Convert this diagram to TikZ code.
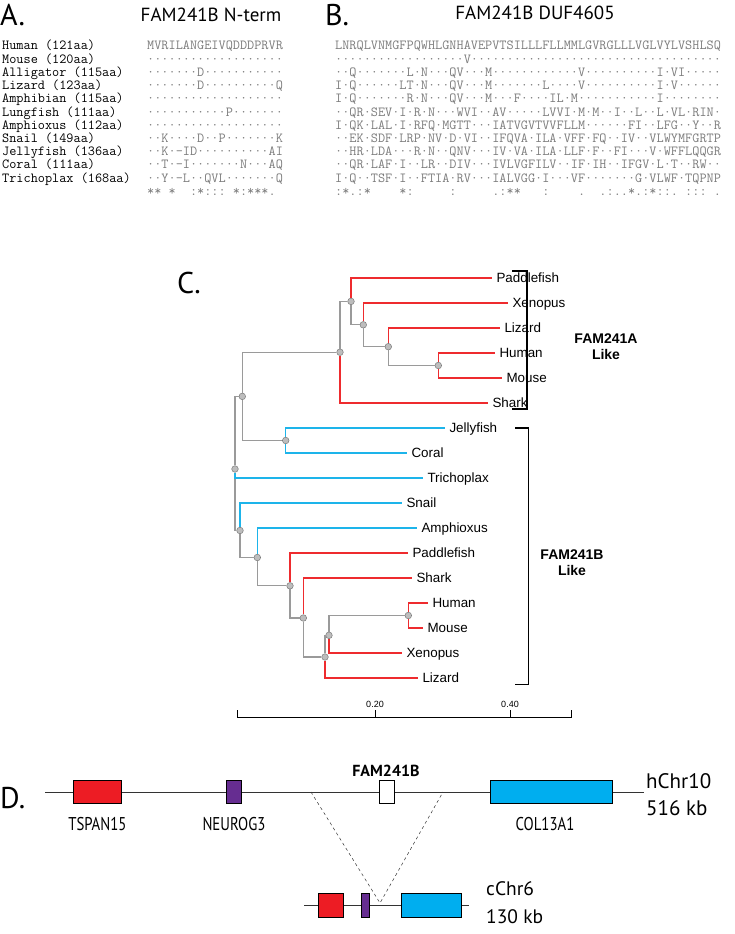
\documentclass[tikz,border=0pt]{standalone}
\usepackage{fontspec}
\newfontfamily\titlefont{PT Sans}
\newfontfamily\leaffont{Liberation Sans}
\newfontfamily\genefont[FakeStretch=0.8]{PT Sans}

\definecolor{seqgray}{HTML}{7C7C7C}
\definecolor{trred}{HTML}{EE2B2E}
\definecolor{trblue}{HTML}{1DB4EA}
\definecolor{trgray}{HTML}{9A9A9A}
\definecolor{nodefill}{HTML}{BDBDBD}
\definecolor{nodeedge}{HTML}{7A7A7A}
\definecolor{genered}{HTML}{ED1C24}
\definecolor{genepurple}{HTML}{662D91}
\definecolor{geneblue}{HTML}{00AEEF}
\definecolor{chrgray}{HTML}{333333}

\tikzset{
  panel/.style={font=\titlefont\fontsize{30}{30}\selectfont, anchor=base west, inner sep=0pt},
  heading/.style={font=\titlefont\fontsize{19}{19}\selectfont, anchor=base, inner sep=0pt},
  spname/.style={font=\ttfamily\fontsize{13.87}{14}\selectfont, anchor=base west, inner sep=0pt},
  residues/.style={spname, text=seqgray},
  leaf/.style={font=\leaffont\fontsize{13.4}{14}\selectfont, anchor=west, inner xsep=4.5pt,
    inner ysep=0pt, outer sep=0pt, text height=9.6pt, text depth=0pt},
  split/.style={circle, draw=nodeedge, fill=nodefill, line width=0.5pt, inner sep=0pt,
    minimum size=6.6pt},
  redbr/.style={draw=trred, line width=1.3pt},
  bluebr/.style={draw=trblue, line width=1.3pt},
  graybr/.style={draw=trgray, line width=1.3pt},
  bracket/.style={draw=black, line width=1.5pt},
  clade/.style={font=\leaffont\bfseries\fontsize{14}{16}\selectfont, align=center, inner sep=0pt},
  scalelbl/.style={font=\leaffont\fontsize{9}{9}\selectfont, anchor=base, inner sep=0pt},
  genebox/.style={draw=black, line width=0.6pt, minimum height=23pt, inner sep=0pt},
  genelbl/.style={font=\genefont\fontsize{18.5}{19}\selectfont, anchor=base, inner sep=0pt},
  chrlbl/.style={font=\titlefont\fontsize{21}{21}\selectfont, anchor=base west, inner sep=0pt},
  chrline/.style={draw=chrgray, line width=1pt}
}

\begin{document}
\begin{tikzpicture}[x=1pt,y=-1pt]
\useasboundingbox (0,0) rectangle (734,934);

	% Panel titles.
	\node[panel] (title_a) at (0,26) {A.};
	\node[panel] (title_b) at (325,26) {B.};
	\node[heading] (head_nterm) at (211,22) {FAM241B N-term};
	\node[heading] (head_duf) at (535,20) {FAM241B DUF4605};

	% Species names.
	\node[spname] (sp_human) at (2,50) {Human (121aa)};
	\node[spname] (sp_mouse) at (2,63.2) {Mouse (120aa)};
	\node[spname] (sp_alligator) at (2,76.4) {Alligator (115aa)};
	\node[spname] (sp_lizard) at (2,89.6) {Lizard (123aa)};
	\node[spname] (sp_amphibian) at (2,102.8) {Amphibian (115aa)};
	\node[spname] (sp_lungfish) at (2,116) {Lungfish (111aa)};
	\node[spname] (sp_amphioxus) at (2,129.2) {Amphioxus (112aa)};
	\node[spname] (sp_snail) at (2,142.4) {Snail (149aa)};
	\node[spname] (sp_jellyfish) at (2,155.6) {Jellyfish (136aa)};
	\node[spname] (sp_coral) at (2,168.8) {Coral (111aa)};
	\node[spname] (sp_tricho) at (2,182) {Trichoplax (168aa)};

	% N-term alignment.
	\node[residues] (nt_human) at (147,50) {MVRILANGEIVQDDDPRVR};
	\node[residues] (nt_mouse) at (147,63.2) {···················};
	\node[residues] (nt_alligator) at (147,76.4) {·······D···········};
	\node[residues] (nt_lizard) at (147,89.6) {·······D··········Q};
	\node[residues] (nt_amphibian) at (147,102.8) {···················};
	\node[residues] (nt_lungfish) at (147,116) {···········P·······};
	\node[residues] (nt_amphioxus) at (147,129.2) {···················};
	\node[residues] (nt_snail) at (147,142.4) {··K····D··P·······K};
	\node[residues] (nt_jellyfish) at (147,155.6) {··K·-ID··········AI};
	\node[residues] (nt_coral) at (147,168.8) {··T·-I·······N···AQ};
	\node[residues] (nt_tricho) at (147,182) {··Y·-L··QVL·······Q};
	\node[residues] (nt_cons) at (147,195.2) {**~*~~:*:::~*:***.};

	% DUF4605 alignment.
	\node[residues] (duf_human) at (335,50) {LNRQLVNMGFPQWHLGNHAVEPVTSILLLFLLMMLGVRGLLLVGLVYLVSHLSQ};
	\node[residues] (duf_mouse) at (335,63.2) {··················V···································};
	\node[residues] (duf_alligator) at (335,76.4) {··Q·······L·N···QV···M············V··········I·VI·····};
	\node[residues] (duf_lizard) at (335,89.6) {I·Q······LT·N···QV···M·······L····V··········I·V······};
	\node[residues] (duf_amphibian) at (335,102.8) {I·Q·······R·N···QV···M···F····IL·M···········I········};
	\node[residues] (duf_lungfish) at (335,116) {··QR·SEV·I·R·N···WVI··AV·····LVVI·M·M··I··L··L·VL·RIN·};
	\node[residues] (duf_amphioxus) at (335,129.2) {I·QK·LAL·I·RFQ·MGTT···IATVGVTVVFLLM······FI··LFG··Y··R};
	\node[residues] (duf_snail) at (335,142.4) {··EK·SDF·LRP·NV·D·VI··IFQVA·ILA·VFF·FQ··IV··VLWYMFGRTP};
	\node[residues] (duf_jellyfish) at (335,155.6) {··HR·LDA···R·N··QNV···IV·VA·ILA·LLF·F··FI···V·WFFLQQGR};
	\node[residues] (duf_coral) at (335,168.8) {··QR·LAF·I··LR··DIV···IVLVGFILV··IF·IH··IFGV·L·T··RW··};
	\node[residues] (duf_tricho) at (335,182) {I·Q··TSF·I··FTIA·RV···IALVGG·I···VF·······G·VLWF·TQPNP};
	\node[residues] (duf_cons) at (335,195.2) {:*.:*~~~~*:~~~~~:~~~~~.:**~~~:~~~~.~~.:..*.:*::.~:::~.};

	% Tree title.
	\node[panel] (title_c) at (177,293) {C.};

	% Leaves.
	\node[leaf] (lf_paddle_a) at (492,278) {Paddlefish};
	\node[leaf] (lf_xenopus_a) at (508,303) {Xenopus};
	\node[leaf] (lf_lizard_a) at (500,328) {Lizard};
	\node[leaf] (lf_human_a) at (495,353) {Human};
	\node[leaf] (lf_mouse_a) at (502,378) {Mouse};
	\node[leaf] (lf_shark_a) at (488,403) {Shark};
	\node[leaf] (lf_jelly) at (445,428) {Jellyfish};
	\node[leaf] (lf_coral) at (407,453) {Coral};
	\node[leaf] (lf_tricho) at (423,478) {Trichoplax};
	\node[leaf] (lf_snail) at (402,503) {Snail};
	\node[leaf] (lf_amphioxus) at (417,528) {Amphioxus};
	\node[leaf] (lf_paddle_b) at (408,553) {Paddlefish};
	\node[leaf] (lf_shark_b) at (412,578) {Shark};
	\node[leaf] (lf_human_b) at (428,603) {Human};
	\node[leaf] (lf_mouse_b) at (423,628) {Mouse};
	\node[leaf] (lf_xenopus_b) at (402,653) {Xenopus};
	\node[leaf] (lf_lizard_b) at (418,678) {Lizard};

	% Splits.
	\node[split] (n_hm_a) at (438.3,365.5) {};
	\node[split] (n_lhm_a) at (388.3,346.7) {};
	\node[split] (n_xlhm_a) at (363.3,324.8) {};
	\node[split] (n_pxlhm_a) at (351,301.4) {};
	\node[split] (n_fam_a) at (340,352.2) {};
	\node[split] (n_cnid) at (285.7,440.5) {};
	\node[split] (n_top) at (242.3,396.4) {};
	\node[split] (n_root) at (235,469) {};
	\node[split] (n_snail) at (240,530.5) {};
	\node[split] (n_amph) at (257.3,557.5) {};
	\node[split] (n_paddle_b) at (290,585.8) {};
	\node[split] (n_shark_b) at (303.3,618) {};
	\node[split] (n_low) at (325,657) {};
	\node[split] (n_hmx) at (329,635.3) {};
	\node[split] (n_hm_b) at (408.3,615.5) {};

	% Gray branches.
	\draw[graybr] (n_root) |- (n_top);
	\draw[graybr] (n_root) |- (n_snail);
	\draw[graybr] (n_top) |- (n_fam_a);
	\draw[graybr] (n_top) |- (n_cnid);
	\draw[graybr] (n_fam_a) |- (n_pxlhm_a);
	\draw[graybr] (n_pxlhm_a) |- (n_xlhm_a);
	\draw[graybr] (n_xlhm_a) |- (n_lhm_a);
	\draw[graybr] (n_lhm_a) |- (n_hm_a);
	\draw[graybr] (n_snail) |- (n_amph);
	\draw[graybr] (n_amph) |- (n_paddle_b);
	\draw[graybr] (n_paddle_b) |- (n_shark_b);
	\draw[graybr] (n_shark_b) |- (n_low);
	\draw[graybr] (n_low) |- (n_hmx);
	\draw[graybr] (n_hmx) |- (n_hm_b);

	% Red branches.
	\draw[redbr] (n_pxlhm_a) |- (lf_paddle_a);
	\draw[redbr] (n_xlhm_a) |- (lf_xenopus_a);
	\draw[redbr] (n_lhm_a) |- (lf_lizard_a);
	\draw[redbr] (n_hm_a) |- (lf_human_a);
	\draw[redbr] (n_hm_a) |- (lf_mouse_a);
	\draw[redbr] (n_fam_a) |- (lf_shark_a);
	\draw[redbr] (n_paddle_b) |- (lf_paddle_b);
	\draw[redbr] (n_shark_b) |- (lf_shark_b);
	\draw[redbr] (n_hm_b) |- (lf_human_b);
	\draw[redbr] (n_hm_b) |- (lf_mouse_b);
	\draw[redbr] (n_hmx) |- (lf_xenopus_b);
	\draw[redbr] (n_low) |- (lf_lizard_b);

	% Blue branches.
	\draw[bluebr] (n_cnid) |- (lf_jelly);
	\draw[bluebr] (n_cnid) |- (lf_coral);
	\draw[bluebr] (n_root) |- (lf_tricho);
	\draw[bluebr] (n_snail) |- (lf_snail);
	\draw[bluebr] (n_amph) |- (lf_amphioxus);

	% Brackets.
	\draw[bracket] (512,271) -- (527,271) -- (527,409) -- (512,409);
	\node[clade] (lab_fam_a) at (606,347) {FAM241A\\Like};
	\draw[bracket] (515,428) -- (528.5,428) -- (528.5,684.5) -- (515,684.5);
	\node[clade] (lab_fam_b) at (572,563) {FAM241B\\Like};

	% Scale bar.
	\draw[line width=0.8pt] (237,710) -- (237,717) -- (571,717) -- (571,710);
	\draw[line width=0.8pt] (375,710) -- (375,717);
	\draw[line width=0.8pt] (510,710) -- (510,717);
	\node[scalelbl] (sc_020) at (375,707) {0.20};
	\node[scalelbl] (sc_040) at (510,707) {0.40};

	% Locus title.
	\node[panel] (title_d) at (0,808) {D.};

	% Human locus.
	\coordinate (h_left) at (45,792);
	\coordinate (h_right) at (644,792);
	\draw[chrline] (h_left) -- (h_right);
	\node[genebox, fill=genered, minimum width=48.7pt] (g_tspan) at (97.4,792) {};
	\node[genebox, fill=genepurple, minimum width=15.1pt] (g_neurog) at (234,792) {};
	\node[genebox, fill=white, minimum width=15.1pt] (g_fam) at (386.4,792) {};
	\node[genebox, fill=geneblue, minimum width=121.2pt] (g_col) at (551.2,792) {};
	\node[genelbl] (lab_tspan) at (97.4,830) {TSPAN15};
	\node[genelbl] (lab_neurog) at (234,830) {NEUROG3};
	\node[genelbl] (lab_col) at (545,830) {COL13A1};
	\node[font=\titlefont\bfseries\fontsize{16}{16}\selectfont, anchor=base, inner sep=0pt] (lab_fam) at (386,776) {FAM241B};
	\node[chrlbl] (lab_hchr) at (646,788) {hChr10};
	\node[chrlbl] (lab_hsize) at (646,815) {516 kb};

	% Chicken locus.
	\coordinate (c_left) at (304,905);
	\coordinate (c_right) at (469,905);
	\draw[chrline] (c_left) -- (c_right);
	\node[genebox, fill=genered, minimum width=24.6pt, minimum height=24pt] (c_tspan) at (330.7,905) {};
	\node[genebox, fill=genepurple, minimum width=8.1pt, minimum height=24pt] (c_neurog) at (364.9,905) {};
	\node[genebox, fill=geneblue, minimum width=60.3pt, minimum height=24pt] (c_col) at (431.2,905) {};
	\node[chrlbl, font=\titlefont\fontsize{19.5}{20}\selectfont] (lab_cchr) at (486,895) {cChr6};
	\node[chrlbl, font=\titlefont\fontsize{19.5}{20}\selectfont] (lab_csize) at (486,923) {130 kb};

	% Lost region.
	\coordinate (dash_l) at (311,792);
	\coordinate (dash_r) at (443,792);
	\coordinate (dash_v) at (380,903);
	\draw[dashed, chrgray, line width=0.5pt] (dash_l) -- (dash_v) -- (dash_r);

\end{tikzpicture}
\end{document}
